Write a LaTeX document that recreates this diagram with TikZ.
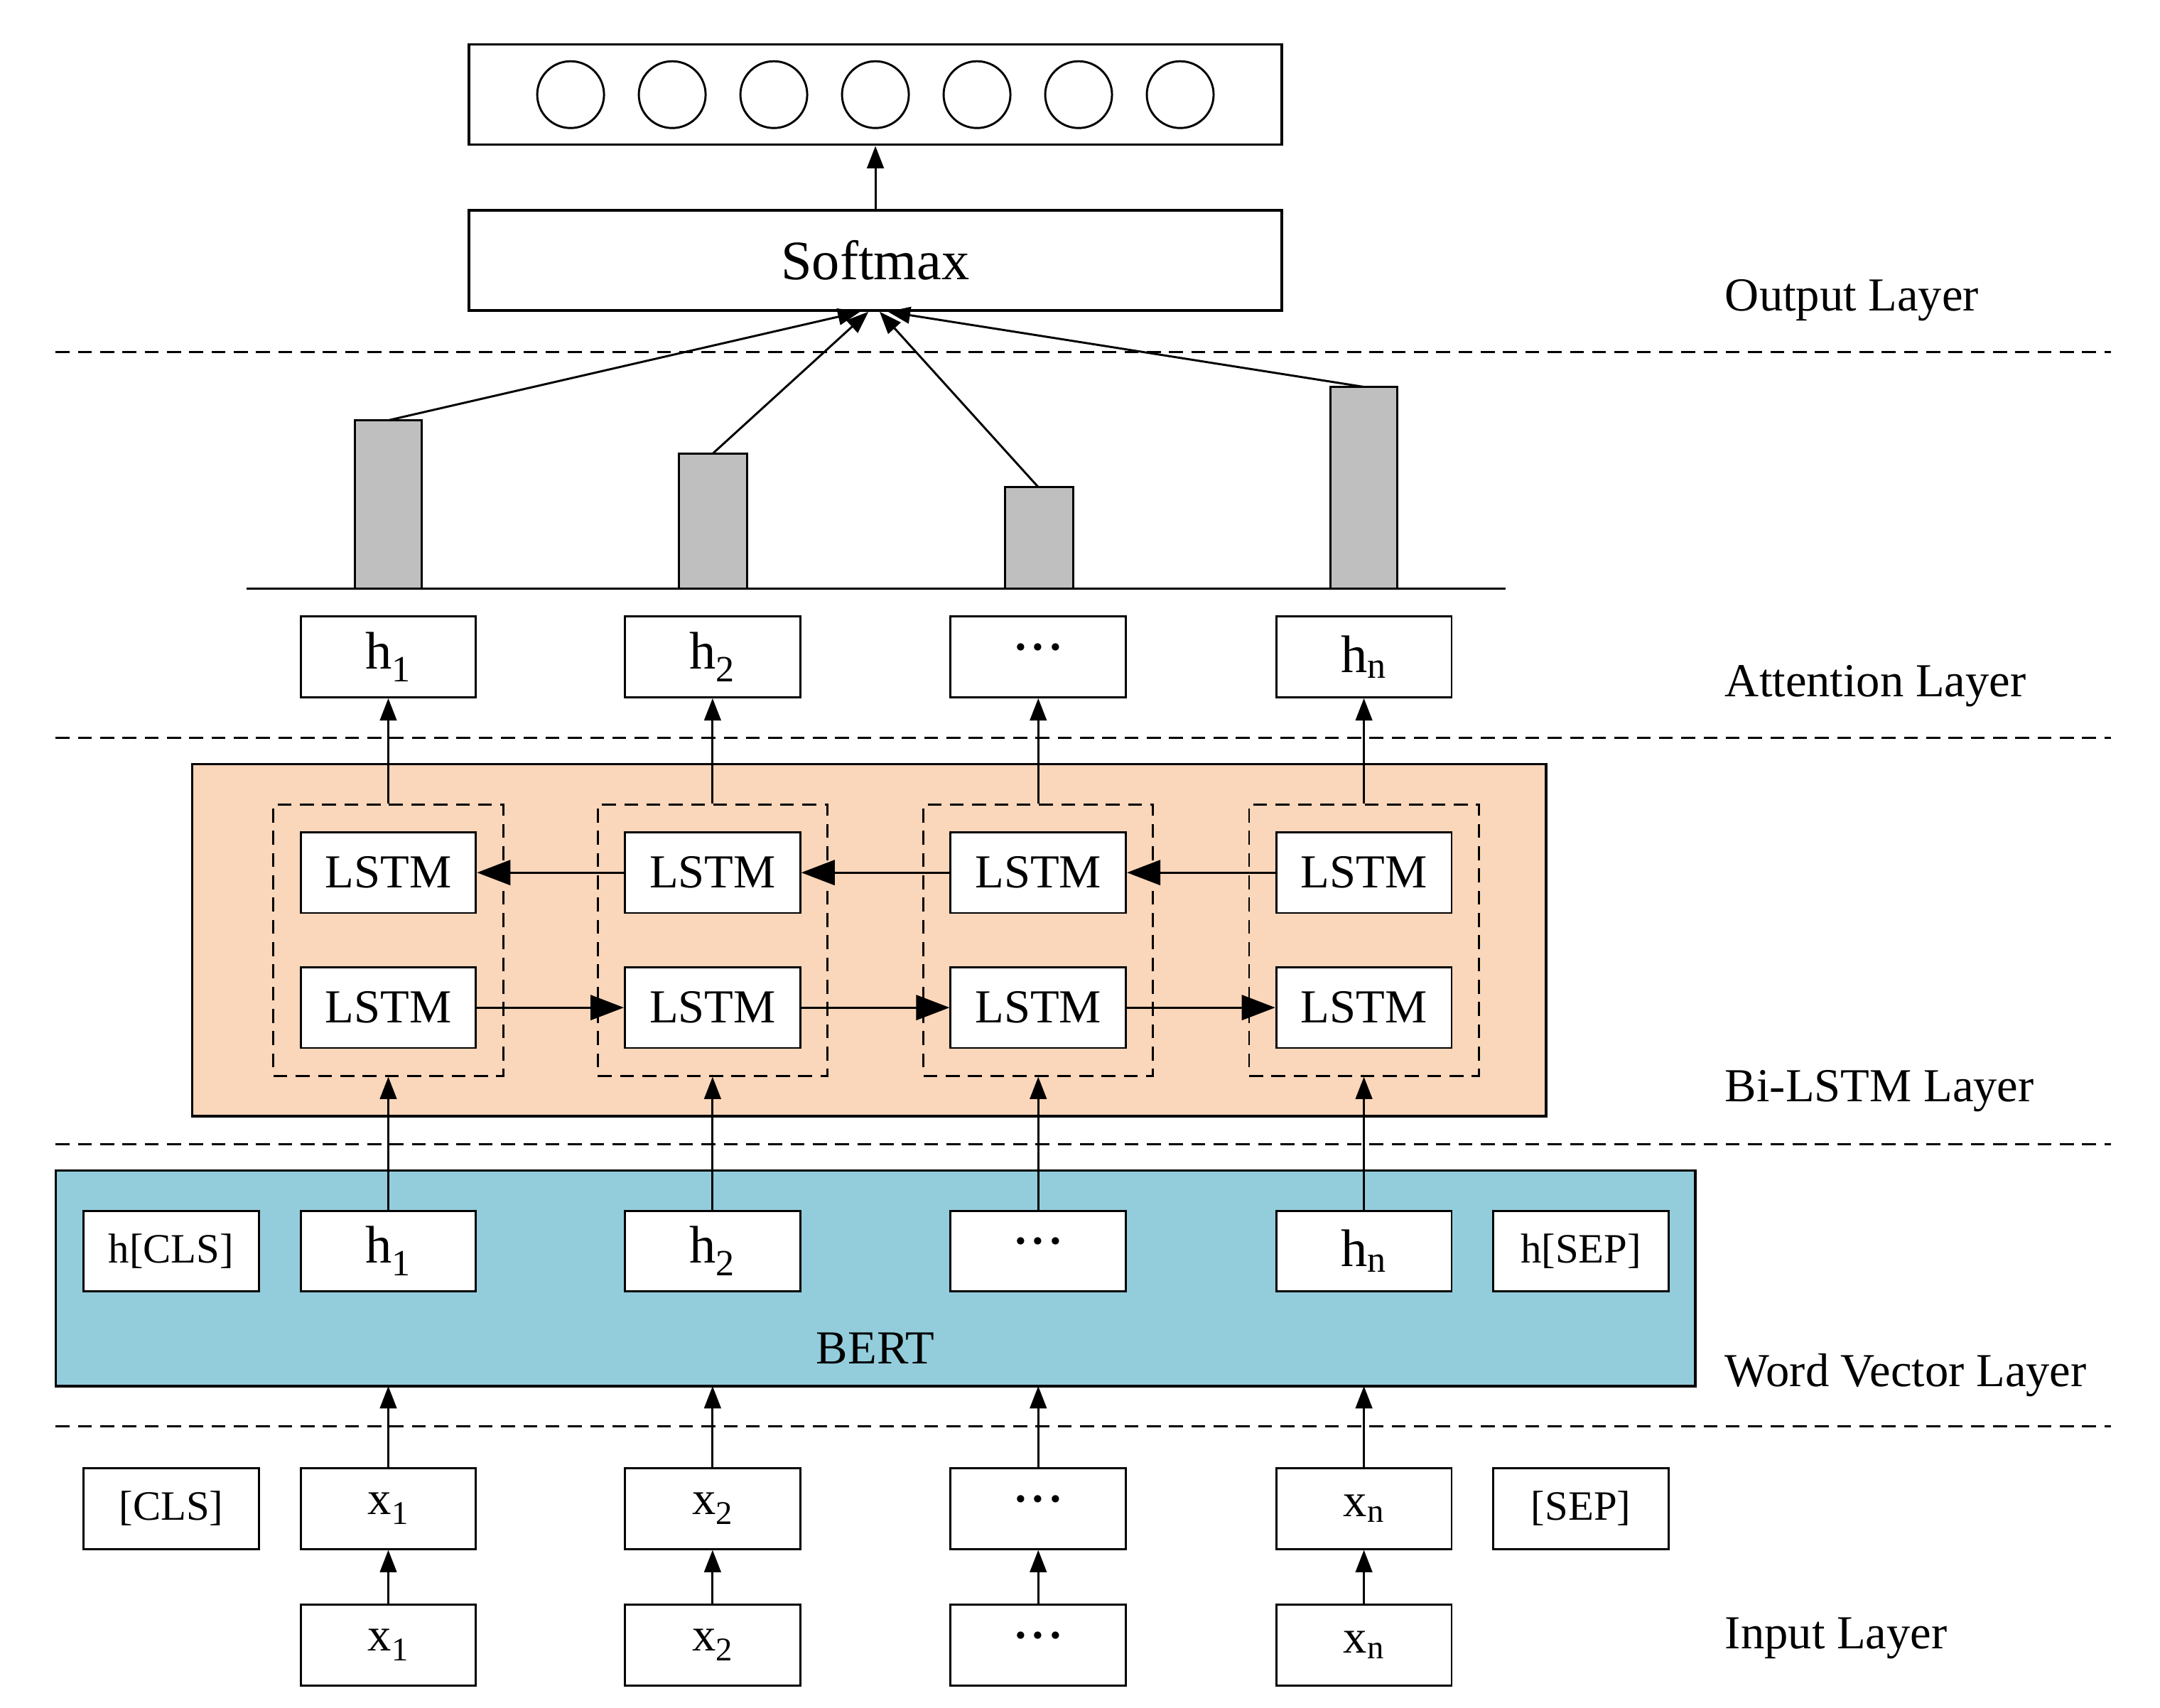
\documentclass[tikz,border=0pt]{standalone}
\usepackage{fontspec}
\setmainfont{Liberation Serif}
\usetikzlibrary{arrows.meta}
\definecolor{peach}{HTML}{FAD6BA}
\definecolor{bertc}{HTML}{93CDDC}
\newcommand{\mydots}{{\fontsize{44}{44}\selectfont\raisebox{2pt}{·\kern-2pt·\kern-2pt·}}}
\begin{document}
\begin{tikzpicture}[x=1pt,y=-1pt,
 box/.style={draw,line width=1.5pt,fill=white,minimum width=126pt,minimum height=58pt,inner sep=0pt,font=\fontsize{34}{38}\selectfont},
 hb/.style={box,font=\fontsize{38}{42}\selectfont},
 arr/.style={line width=1.5pt,-{Triangle[length=16pt,width=12pt]}},
 big/.style={line width=1.5pt,-{Triangle[length=24pt,width=18pt]}},
 dsh/.style={line width=1.5pt,dash pattern=on 10pt off 6pt},
 lab/.style={anchor=west,font=\fontsize{34}{38}\selectfont},
 bar/.style={draw,line width=1.5pt,fill=gray!50}]
\useasboundingbox (0,0) rectangle (1552,1227);
\foreach \y in {253,530,822,1025} \draw[dsh] (40,\y) -- (1517,\y);
\node[lab] at (1236,216) {Output Layer};
\node[lab] at (1236,493) {Attention Layer};
\node[lab] at (1236,784) {Bi-LSTM Layer};
\node[lab] at (1236,988) {Word Vector Layer};
\node[lab] at (1236,1177) {Input Layer};
\node[draw,line width=1.8pt,minimum width=584pt,minimum height=72pt] (out) at (629,68) {};
\foreach \x in {410,483,556,629,702,775,848} \draw[line width=1.5pt] (\x,68) circle (24);
\node[draw,line width=1.8pt,minimum width=584pt,minimum height=72pt,font=\fontsize{40}{44}\selectfont] (soft) at (629,187) {Softmax};
\draw[arr] (soft.north) -- (out.south);
\draw[line width=1.5pt] (177,423) -- (1082,423);
\draw[bar] (255,302) rectangle (303,423);
\draw[bar] (488,326) rectangle (537,423);
\draw[bar] (722,350) rectangle (771,423);
\draw[bar] (956,278) rectangle (1004,423);
\coordinate (b1) at (279,302); \coordinate (b2) at (512,326);
\coordinate (b3) at (746,350); \coordinate (b4) at (980,278);
\coordinate (s1) at (618,224); \coordinate (s2) at (624,224);
\coordinate (s3) at (632,224); \coordinate (s4) at (638,224);
\draw[arr] (b1) -- (s1);
\draw[arr] (b2) -- (s2);
\draw[arr] (b3) -- (s3);
\draw[arr] (b4) -- (s4);
\draw[line width=1.8pt,fill=peach] (138,549) rectangle (1111,802);
\node[draw,line width=1.8pt,fill=bertc,minimum width=1178pt,minimum height=155pt] (bert) at (629,918.5) {};
\node[font=\fontsize{34}{38}\selectfont] at (629,969) {BERT};
\foreach \i/\x/\t in {1/279/h\textsubscript{1},2/512/h\textsubscript{2},3/746/\mydots,4/980/h\textsubscript{n}} {
  \node[dsh,draw,minimum width=165pt,minimum height=195pt] (d\i) at (\x,675.5) {};
  \node[box] (u\i) at (\x,627) {LSTM};
  \node[box] (l\i) at (\x,724) {LSTM};
  \node[hb] (a\i) at (\x,472) {\t};
  \node[hb] (w\i) at (\x,899) {\t};
  \draw[arr] (d\i.north) -- (a\i.south);
  \draw[arr] (w\i.north) -- (d\i.south);
}
\foreach \i/\x/\t in {1/279/x\textsubscript{1},2/512/x\textsubscript{2},3/746/\mydots,4/980/x\textsubscript{n}} {
  \node[box] (x\i) at (\x,1084) {\t};
  \node[box] (y\i) at (\x,1182) {\t};
  \draw[arr] (x\i.north) -- (\x,996);
  \draw[arr] (y\i.north) -- (x\i.south);
}
\draw[big] (u2.west) -- (u1.east);
\draw[big] (u3.west) -- (u2.east);
\draw[big] (u4.west) -- (u3.east);
\draw[big] (l1.east) -- (l2.west);
\draw[big] (l2.east) -- (l3.west);
\draw[big] (l3.east) -- (l4.west);
\node[box,font=\fontsize{30}{34}\selectfont] (hcls) at (123,899) {h[CLS]};
\node[box,font=\fontsize{30}{34}\selectfont] (hsep) at (1136,899) {h[SEP]};
\node[box,font=\fontsize{30}{34}\selectfont] (cls) at (123,1084) {[CLS]};
\node[box,font=\fontsize{30}{34}\selectfont] (sep) at (1136,1084) {[SEP]};
\end{tikzpicture}
\end{document}
